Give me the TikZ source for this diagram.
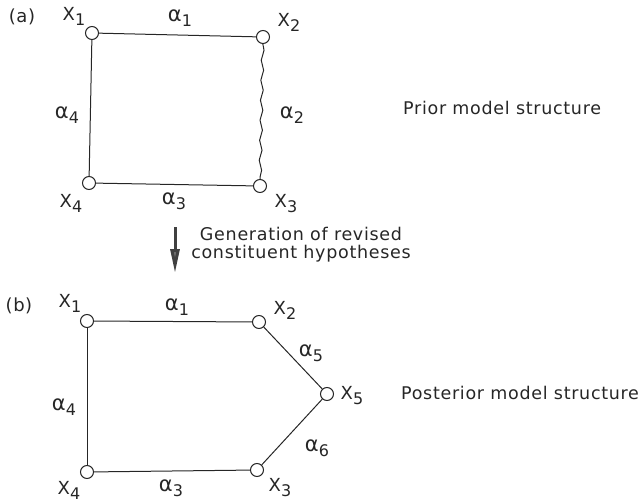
\documentclass[tikz,border=0pt]{standalone}
\usepackage{fontspec}
\setmainfont{DejaVu Sans}
\usetikzlibrary{decorations.pathmorphing,arrows.meta}
\newcommand\lsub[1]{\raisebox{-5pt}{\fontsize{16}{16}\selectfont #1}}
\newcommand\alp{{\fontsize{21}{21}\selectfont α}}
\begin{document}
\begin{tikzpicture}[x=1pt,y=-1pt,
  vtx/.style={circle,draw=black!85,fill=white,minimum size=13pt,inner sep=0pt,line width=1pt},
  edge/.style={line width=1pt,draw=black!85},
  wavy/.style={edge,decorate,decoration={snake,amplitude=1.3pt,segment length=20pt}},
  lbl/.style={font=\fontsize{18}{21}\selectfont\addfontfeature{LetterSpace=3},inner sep=0pt,text=black!85},
  caption/.style={font=\fontsize{17.5}{19}\selectfont\addfontfeature{LetterSpace=4},inner sep=0pt,text=black!85,align=center}]
\useasboundingbox (0,0) rectangle (638,503);
% (a) prior
\node[vtx] (a1) at (92,33) {};
\node[vtx] (a2) at (263,37) {};
\node[vtx] (a3) at (260,186) {};
\node[vtx] (a4) at (89,183) {};
\draw[edge] (a1) -- (a2);
\draw[wavy] (a2) -- (a3);
\draw[edge] (a3) -- (a4);
\draw[edge] (a4) -- (a1);
\node[lbl] (la) at (22,17) {(a)};
\node[lbl] (lax1) at (74,16) {X\lsub{1}};
\node[lbl] (lax2) at (289,22) {X\lsub{2}};
\node[lbl] (lax3) at (286,204) {X\lsub{3}};
\node[lbl] (lax4) at (71,203) {X\lsub{4}};
\node[lbl] (laa1) at (180,18) {\alp\lsub{1}};
\node[lbl] (laa2) at (292,115) {\alp\lsub{2}};
\node[lbl] (laa3) at (174,201) {\alp\lsub{3}};
\node[lbl] (laa4) at (67,115) {\alp\lsub{4}};
\node[caption,anchor=west] (prior) at (403,108) {Prior model structure};
% transition arrow
\coordinate (arT) at (175,227);
\coordinate (arB) at (175,273);
\draw[line width=3pt,draw=black!75,-{Triangle[length=24pt,width=9pt,fill=black!55]}] (arT) -- (arB);
\node[caption] (gen) at (301,245) {Generation of revised\\[-1pt]constituent hypotheses};
% (b) posterior
\node[vtx] (b1) at (87,321) {};
\node[vtx] (b2) at (259,322) {};
\node[vtx] (b5) at (327,394) {};
\node[vtx] (b3) at (257,470) {};
\node[vtx] (b4) at (87,472) {};
\draw[edge] (b1) -- (b2);
\draw[edge] (b2) -- (b5);
\draw[edge] (b5) -- (b3);
\draw[edge] (b3) -- (b4);
\draw[edge] (b4) -- (b1);
\node[lbl] (lb) at (19,306) {(b)};
\node[lbl] (lbx1) at (70,303) {X\lsub{1}};
\node[lbl] (lbx2) at (285,310) {X\lsub{2}};
\node[lbl] (lbx5) at (352,396) {X\lsub{5}};
\node[lbl] (lbx3) at (280,488) {X\lsub{3}};
\node[lbl] (lbx4) at (69,490) {X\lsub{4}};
\node[lbl] (lba1) at (177,307) {\alp\lsub{1}};
\node[lbl] (lba5) at (311,353) {\alp\lsub{5}};
\node[lbl] (lba6) at (317,448) {\alp\lsub{6}};
\node[lbl] (lba3) at (171,488) {\alp\lsub{3}};
\node[lbl] (lba4) at (64,407) {\alp\lsub{4}};
\node[caption,anchor=west] (post) at (401,393) {Posterior model structure};
\end{tikzpicture}
\end{document}
